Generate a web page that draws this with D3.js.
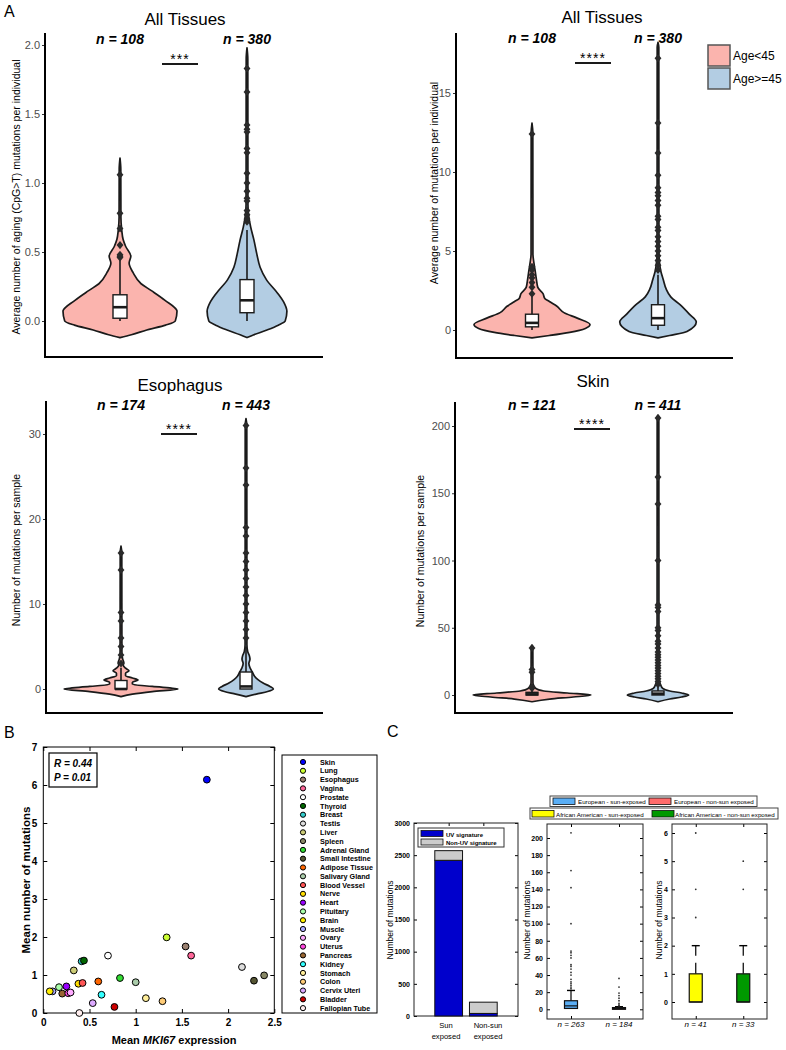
<!DOCTYPE html>
<html><head><meta charset="utf-8">
<script src="https://cdn.jsdelivr.net/npm/d3@7"></script>
<style>
body{margin:0;background:#fff}
svg{display:block}
text{font-family:"Liberation Sans",Arial,Helvetica,sans-serif}
</style>
</head><body>
<svg id="c" width="786" height="1050"></svg>
<script>
// ================= DATA =================
const ageGroups = ["Age<45", "Age>=45"];
const ageColors = ["#FBB4AE", "#B3CDE3"];

// A1 – All Tissues, aging (CpG>T) mutations ([value, relative density])
const a1Title = "All Tissues";
const a1N = ["n = 108", "n = 380"];
const a1Sig = "***";
const a1Ticks = [0, 0.5, 1, 1.5, 2];
const a1DensYoung = [[-0.12,0],[-0.1,0.2],[-0.065,0.47],[-0.03,0.8],[0,0.97],[0.07,1.0],[0.15,0.79],[0.22,0.55],[0.27,0.37],[0.35,0.23],[0.42,0.16],[0.47,0.19],[0.54,0.1],[0.59,0.055],[0.66,0.03],[0.75,0.016],[1.1,0.014],[1.18,0]];
const a1DensOld = [[-0.12,0],[-0.1,0.12],[-0.065,0.35],[-0.03,0.55],[0,0.67],[0.07,0.7],[0.14,0.64],[0.2,0.54],[0.3,0.34],[0.39,0.23],[0.49,0.17],[0.59,0.12],[0.68,0.065],[0.76,0.03],[0.85,0.016],[1.6,0.015],[1.9,0.014],[1.98,0]];
const a1BoxYoung = [0, 0.02, 0.10, 0.19, 0.45]; // low whisker, q1, median, q3, high whisker
const a1BoxOld = [0, 0.06, 0.15, 0.30, 0.66];
const a1OutYoung = [0.46, 0.47, 0.48, 0.55, 0.67, 0.78, 1.06];
const a1OutOld = [0.72, 0.74, 0.77, 0.80, 0.87, 0.89, 0.94, 1.00, 1.07, 1.22, 1.25, 1.37, 1.39, 1.42, 1.66, 1.83];

// A2 – All Tissues, all mutations
const a2Title = "All Tissues";
const a2N = ["n = 108", "n = 380"];
const a2Sig = "****";
const a2Ticks = [0, 5, 10, 15];
const a2DensYoung = [[-0.5,0],[-0.35,0.3],[-0.15,0.65],[0.1,0.92],[0.35,1.0],[0.75,0.78],[1.1,0.55],[1.5,0.43],[1.8,0.3],[2.0,0.22],[2.3,0.19],[2.7,0.1],[3.1,0.08],[3.6,0.06],[4.2,0.035],[4.8,0.016],[12.5,0.014],[13.1,0]];
const a2DensOld = [[-0.5,0],[-0.35,0.2],[-0.1,0.5],[0.5,0.66],[1.0,0.54],[1.6,0.38],[2.1,0.22],[2.6,0.14],[3.2,0.09],[3.7,0.05],[4.3,0.025],[5,0.016],[17.9,0.014],[18.2,0]];
const a2BoxYoung = [0, 0.2, 0.45, 1.0, 2.2];
const a2BoxOld = [0, 0.3, 0.75, 1.6, 3.5];
const a2OutYoung = [2.3, 2.7, 3.0, 3.3, 3.5, 3.8, 4.0, 12.4];
const a2OutOld = [3.8, 4.1, 4.4, 4.7, 5.0, 5.3, 5.6, 5.9, 6.3, 6.5, 7.0, 7.2, 7.9, 8.2, 8.5, 8.7, 9.0, 9.8, 11.2, 13.1, 17.2];

// A3 – Esophagus
const a3Title = "Esophagus";
const a3N = ["n = 174", "n = 443"];
const a3Sig = "****";
const a3Ticks = [0, 10, 20, 30];
const a3DensYoung = [[-0.9,0],[-0.6,0.2],[-0.3,0.55],[0,1.0],[0.3,0.55],[0.55,0.2],[0.8,0.2],[1.05,0.3],[1.3,0.2],[1.55,0.08],[1.85,0.08],[2.15,0.14],[2.45,0.08],[2.8,0.04],[3.1,0.05],[3.5,0.03],[4.2,0.016],[16,0.014],[16.8,0]];
const a3DensOld = [[-0.9,0],[-0.6,0.18],[-0.3,0.38],[0,0.48],[0.3,0.42],[0.7,0.3],[1.1,0.21],[1.5,0.15],[2.0,0.11],[2.5,0.07],[3.0,0.05],[3.5,0.07],[3.9,0.06],[4.4,0.03],[5.2,0.016],[31,0.014],[31.8,0]];
const a3BoxYoung = [0, 0, 0, 1, 2.5];
const a3BoxOld = [0, 0, 0.3, 2, 5];
const a3OutYoung = [3, 4, 5, 6, 8, 9, 14, 16];
const a3OutOld = [6, 7, 8, 9, 10, 11, 12, 13, 14, 15, 16, 18, 19, 24, 26, 31];

// A4 – Skin
const a4Title = "Skin";
const a4N = ["n = 121", "n = 411"];
const a4Sig = "****";
const a4Ticks = [0, 50, 100, 150, 200];
const a4DensYoung = [[-5,0],[-3,0.3],[-1.5,0.7],[0,1.0],[1.5,0.6],[3,0.2],[5,0.06],[7,0.03],[9,0.016],[36,0.014],[37,0]];
const a4DensOld = [[-5,0],[-3,0.2],[-1.5,0.4],[0,0.52],[1.5,0.4],[3,0.2],[5,0.08],[8,0.04],[11,0.02],[14,0.016],[207,0.014],[208,0]];
const a4BoxYoung = [0, 0, 0.5, 2, 5];
const a4BoxOld = [0, 0, 1, 3, 7];
const a4OutYoung = [5, 6, 17, 19, 35];
const a4OutOld = [8, 10, 12, 14, 16, 18, 20, 22, 24, 26, 28, 30, 32, 35, 38, 40, 44, 48, 50, 62, 65, 67, 100, 142, 162, 206];

// B – mean mutations vs MKI67 expression
const tissues = ["Skin","Lung","Esophagus","Vagina","Prostate","Thyroid","Breast","Testis","Liver","Spleen","Adrenal Gland","Small Intestine","Adipose Tissue","Salivary Gland","Blood Vessel","Nerve","Heart","Pituitary","Brain","Muscle","Ovary","Uterus","Pancreas","Kidney","Stomach","Colon","Cervix Uteri","Bladder","Fallopian Tube"];
const tissueColors = ["#0000ff","#ccff33","#9a8070","#ff6699","#ffffff","#006600","#33cccc","#dddddd","#cccc77","#888866","#33dd33","#555533","#ff6600","#aaccaa","#ff5555","#ffdd00","#9900ff","#aaffaa","#ffee00","#aaaaff","#ffaaff","#ff44dd","#996633","#33ffff","#ffee99","#ffcc77","#ddaaff","#cc0000","#ffeeee"];
const mki67 = [1.77,1.335,1.54,1.60,0.70,0.44,0.415,2.15,0.33,2.39,0.83,2.28,0.595,1.0,0.425,0.38,0.25,0.17,0.07,0.10,0.295,0.27,0.205,0.63,1.11,1.29,0.535,0.77,0.39];
const meanMut = [6.14,1.99,1.75,1.51,1.51,1.38,1.36,1.21,1.12,0.99,0.92,0.85,0.83,0.81,0.79,0.77,0.70,0.68,0.57,0.57,0.54,0.52,0.51,0.48,0.39,0.31,0.26,0.16,0.0];
const bTicksX = [0, 0.5, 1, 1.5, 2, 2.5];
const bTicksY = [0, 1, 2, 3, 4, 5, 6, 7];
const bStats = ["R = 0.44", "P = 0.01"];

// C – UV signature bars
const cCats = [["Sun","exposed"],["Non-sun","exposed"]];
const cUV = [2420, 40];
const cNonUV = [150, 175];
const cSeries = ["UV signature", "Non-UV signature"];
const cBarTicks = [0, 500, 1000, 1500, 2000, 2500, 3000];

// C – boxplots by ancestry
const cLegend = ["European - sun-exposed","European - non-sun exposed","African American - sun-exposed","African American - non-sun exposed"];
const cLegendColors = ["#5aaef5","#ff6b6b","#ffff00","#009900"];
const cEuroN = ["n = 263", "n = 184"];
const cEuroBox = [[0, 1, 4, 10, 22], [0, 0, 1, 2, 3]];
const cEuroOut = [[24,26,28,30,32,35,40,43,47,50,52,60,63,66,68,100,142,162,206],[4,5,7,10,13,16,19,26,36]];
const cEuroTicks = [0,20,40,60,80,100,120,140,160,180,200];
const cAfrN = ["n = 41", "n = 33"];
const cAfrBox = [[0, 0, 0, 1, 2], [0, 0, 0, 1, 2]];
const cAfrOut = [[3, 4, 6], [4, 5]];
const cAfrTicks = [0, 1, 2, 3, 4, 5, 6];

// ================= DRAW =================
const svg = d3.select("#c");

function txt(g, x, y, s, o = {}) {
  const t = g.append("text").attr("x", x).attr("y", y).text(s)
    .style("font-size", (o.size || 12) + "px")
    .attr("text-anchor", o.anchor || "start")
    .attr("fill", o.fill || "#000");
  if (o.weight) t.style("font-weight", o.weight);
  if (o.italic) t.style("font-style", "italic");
  if (o.ls) t.style("letter-spacing", o.ls + "px");
  return t;
}
function rtxt(g, x, y, s, o = {}) {
  const t = txt(g, 0, 0, s, Object.assign({anchor: "middle"}, o));
  t.attr("x", null).attr("y", null).attr("transform", `translate(${x},${y}) rotate(-90)`);
  return t;
}

function violinPanel(o) {
  const g = svg.append("g");
  const y = d3.scaleLinear().domain([o.ticks[0], o.ticks[o.ticks.length - 1]]).range(o.yRange);
  const w = d3.scaleLinear().domain([0, 1]).range([0, o.maxHalf]);
  const ax = d3.axisLeft(y).tickValues(o.ticks).tickFormat(o.fmt).tickSize(3).tickPadding(2);
  const axg = g.append("g").attr("transform", `translate(${o.axisX},0)`).call(ax);
  axg.select(".domain").remove();
  axg.selectAll(".tick line").attr("stroke", "#333");
  axg.selectAll(".tick text").attr("fill", "#4d4d4d").style("font-size", "11px")
     .style("font-family", '"Liberation Sans",Arial,sans-serif');
  g.append("path").attr("d", `M${o.axisX},${o.top}V${o.bottom}H${o.right}`)
    .attr("fill", "none").attr("stroke", "#000").attr("stroke-width", 2);
  txt(g, o.titleX, o.titleY, o.title, {size: 17, anchor: "middle"});
  rtxt(g, o.labX, o.labY, o.ylabel, {size: 10.5});
  o.groups.forEach((gr, i) => {
    const cx = o.centers[i];
    txt(g, cx, o.nY, gr.n, {size: 14, weight: "bold", italic: true, anchor: "middle"});
    const area = d3.area().curve(d3.curveMonotoneY)
      .y(d => y(d[0])).x0(d => cx - w(d[1])).x1(d => cx + w(d[1]));
    g.append("path").attr("d", area(gr.dens)).attr("fill", ageColors[i])
      .attr("stroke", "#1a1a1a").attr("stroke-width", 1.7).attr("stroke-linejoin", "round");
    const b = gr.box, bw = o.boxW;
    g.append("line").attr("x1", cx).attr("x2", cx).attr("y1", y(b[3])).attr("y2", y(b[4]))
      .attr("stroke", "#1a1a1a").attr("stroke-width", 1.6);
    g.append("line").attr("x1", cx).attr("x2", cx).attr("y1", y(b[1])).attr("y2", y(b[0]))
      .attr("stroke", "#1a1a1a").attr("stroke-width", 1.6);
    g.append("rect").attr("x", cx - bw / 2).attr("width", bw)
      .attr("y", y(b[3])).attr("height", Math.max(1, y(b[1]) - y(b[3])))
      .attr("fill", "#fff").attr("stroke", "#1a1a1a").attr("stroke-width", 1.4);
    g.append("line").attr("x1", cx - bw / 2).attr("x2", cx + bw / 2).attr("y1", y(b[2])).attr("y2", y(b[2]))
      .attr("stroke", "#1a1a1a").attr("stroke-width", 2.6);
    g.selectAll(null).data(gr.out).join("path")
      .attr("d", d3.symbol(d3.symbolDiamond, 26))
      .attr("transform", d => `translate(${cx},${y(d)}) scale(1.25,0.85)`)
      .attr("fill", "#2a2a2a");
  });
  txt(g, o.sigX, o.sigY, o.sig, {size: 14, anchor: "middle", ls: 1});
  g.append("line").attr("x1", o.sigX - 18).attr("x2", o.sigX + 18).attr("y1", o.sigLine).attr("y2", o.sigLine)
    .attr("stroke", "#1a1a1a").attr("stroke-width", 1.8);
  return g;
}

txt(svg, 4, 17, "A", {size: 16});

violinPanel({title: a1Title, titleX: 185, titleY: 25, ticks: a1Ticks, fmt: d3.format(".1f"),
  yRange: [321, 45], axisX: 45, top: 33, bottom: 357, right: 323, maxHalf: 57, boxW: 14,
  ylabel: "Average number of aging (CpG>T) mutations per individual", labX: 20, labY: 197,
  centers: [120, 247], nY: 44, sig: a1Sig, sigX: 180, sigY: 64, sigLine: 64,
  groups: [{n: a1N[0], dens: a1DensYoung, box: a1BoxYoung, out: a1OutYoung},
           {n: a1N[1], dens: a1DensOld, box: a1BoxOld, out: a1OutOld}]});

violinPanel({title: a2Title, titleX: 602, titleY: 23, ticks: a2Ticks, fmt: d3.format("d"),
  yRange: [330, 93], axisX: 456, top: 33, bottom: 358, right: 733, maxHalf: 58, boxW: 13,
  ylabel: "Average number of mutations per individual", labX: 438, labY: 183,
  centers: [532, 658], nY: 43, sig: a2Sig, sigX: 593, sigY: 63, sigLine: 63,
  groups: [{n: a2N[0], dens: a2DensYoung, box: a2BoxYoung, out: a2OutYoung},
           {n: a2N[1], dens: a2DensOld, box: a2BoxOld, out: a2OutOld}]});

violinPanel({title: a3Title, titleX: 180, titleY: 391, ticks: a3Ticks, fmt: d3.format("d"),
  yRange: [689, 434], axisX: 46, top: 401, bottom: 713, right: 323, maxHalf: 57, boxW: 12,
  ylabel: "Number of mutations per sample", labX: 20, labY: 550,
  centers: [121, 246], nY: 410, sig: a3Sig, sigX: 179, sigY: 434, sigLine: 434,
  groups: [{n: a3N[0], dens: a3DensYoung, box: a3BoxYoung, out: a3OutYoung},
           {n: a3N[1], dens: a3DensOld, box: a3BoxOld, out: a3OutOld}]});

violinPanel({title: a4Title, titleX: 593, titleY: 387, ticks: a4Ticks, fmt: d3.format("d"),
  yRange: [695, 426], axisX: 455, top: 402, bottom: 713, right: 733, maxHalf: 59, boxW: 12,
  ylabel: "Number of mutations per sample", labX: 424, labY: 551,
  centers: [532, 658], nY: 410, sig: a4Sig, sigX: 592, sigY: 429, sigLine: 429,
  groups: [{n: a4N[0], dens: a4DensYoung, box: a4BoxYoung, out: a4OutYoung},
           {n: a4N[1], dens: a4DensOld, box: a4BoxOld, out: a4OutOld}]});

// legend A
{
  const g = svg.append("g");
  ageGroups.forEach((s, i) => {
    g.append("rect").attr("x", 708).attr("y", 45 + i * 23).attr("width", 22).attr("height", 21)
      .attr("fill", ageColors[i]).attr("stroke", "#555").attr("stroke-width", 1.5);
    txt(g, 733, 60 + i * 23, s, {size: 12});
  });
}

// ============ Panel B ============
{
  const g = svg.append("g");
  txt(g, 4, 738, "B", {size: 16});
  const x = d3.scaleLinear().domain([0, 2.5]).range([43.3, 274.3]);
  const y = d3.scaleLinear().domain([0, 7]).range([1013, 747]);
  const style = sel => {
    sel.select(".domain").remove();
    sel.selectAll(".tick line").attr("stroke", "#000");
    sel.selectAll(".tick text").style("font-size", "10px").style("font-weight", "bold")
      .style("font-family", '"Liberation Sans",Arial,sans-serif').attr("fill", "#000");
  };
  g.append("g").attr("transform", "translate(0,1013)")
    .call(d3.axisBottom(x).tickValues(bTicksX).tickFormat(d => String(d)).tickSize(-4).tickPadding(6)).call(style);
  g.append("g").attr("transform", "translate(0,747)")
    .call(d3.axisTop(x).tickValues(bTicksX).tickFormat("").tickSize(-4)).call(style);
  g.append("g").attr("transform", "translate(43.3,0)")
    .call(d3.axisLeft(y).tickValues(bTicksY).tickFormat(d => String(d)).tickSize(-4).tickPadding(6)).call(style);
  g.append("g").attr("transform", "translate(274.3,0)")
    .call(d3.axisRight(y).tickValues(bTicksY).tickFormat("").tickSize(-4)).call(style);
  g.append("rect").attr("x", 43.3).attr("y", 747).attr("width", 231).attr("height", 266)
    .attr("fill", "none").attr("stroke", "#000").attr("stroke-width", 1);
  const xl = txt(g, 174, 1044, "", {size: 11, weight: "bold", anchor: "middle"});
  xl.append("tspan").text("Mean ");
  xl.append("tspan").text("MKI67").style("font-style", "italic");
  xl.append("tspan").text(" expression");
  rtxt(g, 30, 880, "Mean number of mutations", {size: 11.5, weight: "bold"});
  g.append("rect").attr("x", 49).attr("y", 753).attr("width", 48).attr("height", 34)
    .attr("fill", "#fff").attr("stroke", "#000").attr("stroke-width", 1.2);
  txt(g, 54, 767, bStats[0], {size: 10, weight: "bold", italic: true});
  txt(g, 54, 781, bStats[1], {size: 10, weight: "bold", italic: true});
  const order = d3.range(tissues.length).reverse();
  g.selectAll(null).data(order).join("circle")
    .attr("cx", i => x(mki67[i])).attr("cy", i => y(meanMut[i])).attr("r", 3.4)
    .attr("fill", i => tissueColors[i]).attr("stroke", "#000").attr("stroke-width", 1);
  // legend
  g.append("rect").attr("x", 282).attr("y", 755).attr("width", 95).attr("height", 258)
    .attr("fill", "#fff").attr("stroke", "#000").attr("stroke-width", 1);
  tissues.forEach((t, i) => {
    const yy = 762 + i * 8.79;
    g.append("circle").attr("cx", 303).attr("cy", yy).attr("r", 2.6)
      .attr("fill", tissueColors[i]).attr("stroke", "#000").attr("stroke-width", 1);
    txt(g, 320, yy + 2.6, t, {size: 7.2, weight: "bold"});
  });
}

// ============ Panel C ============
function boxAxes(g, x, y, ticks, l, r, t, b, cats) {
  const style = sel => {
    sel.select(".domain").remove();
    sel.selectAll(".tick line").attr("stroke", "#000");
    sel.selectAll(".tick text").style("font-size", "7px").style("font-weight", "bold")
      .style("font-family", '"Liberation Sans",Arial,sans-serif').attr("fill", "#000");
  };
  g.append("g").attr("transform", `translate(${l},0)`)
    .call(d3.axisLeft(y).tickValues(ticks).tickFormat(d => String(d)).tickSize(-3).tickPadding(4)).call(style);
  g.append("g").attr("transform", `translate(${r},0)`)
    .call(d3.axisRight(y).tickValues(ticks).tickFormat("").tickSize(-3)).call(style);
  g.append("g").attr("transform", `translate(0,${b})`)
    .call(d3.axisBottom(x).tickValues(cats).tickFormat("").tickSize(-3)).call(style);
  g.append("g").attr("transform", `translate(0,${t})`)
    .call(d3.axisTop(x).tickValues(cats).tickFormat("").tickSize(-3)).call(style);
  g.append("rect").attr("x", l).attr("y", t).attr("width", r - l).attr("height", b - t)
    .attr("fill", "none").attr("stroke", "#222").attr("stroke-width", 1);
}

{
  const g = svg.append("g");
  txt(g, 387, 737, "C", {size: 16});
  // bar chart
  const x = d3.scaleLinear().domain([0, 3]).range([414, 518]);
  const y = d3.scaleLinear().domain([0, 3000]).range([1016, 823]);
  boxAxes(g, x, y, cBarTicks, 414, 518, 823, 1016, [1, 2]);
  const bw = (x(0.8) - x(0));
  cUV.forEach((v, i) => {
    const cx = x(i + 1);
    g.append("rect").attr("x", cx - bw / 2).attr("width", bw).attr("y", y(v)).attr("height", y(0) - y(v))
      .attr("fill", "#0000cc").attr("stroke", "#111").attr("stroke-width", 1);
    g.append("rect").attr("x", cx - bw / 2).attr("width", bw).attr("y", y(v + cNonUV[i]))
      .attr("height", y(v) - y(v + cNonUV[i]))
      .attr("fill", "#cccccc").attr("stroke", "#111").attr("stroke-width", 1);
  });
  const labX = [446, 488];
  cCats.forEach((c, i) => {
    txt(g, labX[i], 1028, c[0], {size: 7.6, anchor: "middle"});
    txt(g, labX[i], 1039, c[1], {size: 7.6, anchor: "middle"});
  });
  rtxt(g, 393, 920, "Number of mutations", {size: 8.5});
  g.append("rect").attr("x", 418).attr("y", 828).attr("width", 86).attr("height", 19)
    .attr("fill", "#fff").attr("stroke", "#333").attr("stroke-width", 1);
  [["#0000cc", cSeries[0]], ["#cccccc", cSeries[1]]].forEach((d, i) => {
    g.append("rect").attr("x", 421).attr("y", 830.5 + i * 8.5).attr("width", 22).attr("height", 6)
      .attr("fill", d[0]).attr("stroke", "#111").attr("stroke-width", 0.8);
    txt(g, 446, 836.5 + i * 8.5, d[1], {size: 6, weight: "bold"});
  });

  // legends
  g.append("rect").attr("x", 550).attr("y", 796).attr("width", 207).attr("height", 10.5)
    .attr("fill", "#fff").attr("stroke", "#444").attr("stroke-width", 1);
  g.append("rect").attr("x", 530).attr("y", 808).attr("width", 248).attr("height", 11)
    .attr("fill", "#fff").attr("stroke", "#444").attr("stroke-width", 1);
  const legPos = [[553, 798, 578], [649, 798, 674], [532, 810.5, 556], [652, 810.5, 675]];
  cLegend.forEach((s, i) => {
    const p = legPos[i];
    g.append("rect").attr("x", p[0]).attr("y", p[1]).attr("width", 22).attr("height", 6.5)
      .attr("fill", cLegendColors[i]).attr("stroke", "#111").attr("stroke-width", 0.8);
    txt(g, p[2], p[1] + 6, s, {size: 6.2});
  });

  function boxPlot(l, r, t, b, yDom, yRange, ticks, boxes, outs, cols, ns, labX) {
    const xx = d3.scaleLinear().domain([0.5, 2.5]).range([l, r]);
    const yy = d3.scaleLinear().domain(yDom).range(yRange);
    boxAxes(g, xx, yy, ticks, l, r, t, b, [1, 2]);
    boxes.forEach((bx, i) => {
      const cx = xx(i + 1), hw = 6.5;
      g.append("line").attr("x1", cx).attr("x2", cx).attr("y1", yy(bx[3])).attr("y2", yy(bx[4]))
        .attr("stroke", "#000").attr("stroke-width", 1.2).attr("stroke-dasharray", "11,7");
      g.append("line").attr("x1", cx - 4).attr("x2", cx + 4).attr("y1", yy(bx[4])).attr("y2", yy(bx[4]))
        .attr("stroke", "#000").attr("stroke-width", 1.4);
      g.append("rect").attr("x", cx - hw).attr("width", 2 * hw).attr("y", yy(bx[3]))
        .attr("height", Math.max(1.5, yy(bx[1]) - yy(bx[3])))
        .attr("fill", cols[i]).attr("stroke", "#111").attr("stroke-width", 1.2);
      g.append("line").attr("x1", cx - hw).attr("x2", cx + hw).attr("y1", yy(bx[2])).attr("y2", yy(bx[2]))
        .attr("stroke", "#111").attr("stroke-width", 1.2);
      g.selectAll(null).data(outs[i]).join("circle")
        .attr("cx", cx).attr("cy", d => yy(d)).attr("r", 0.9).attr("fill", "#333");
      txt(g, cx, 1027, ns[i], {size: 8, italic: true, anchor: "middle"});
    });
    rtxt(g, labX, 920, "Number of mutations", {size: 8.5});
  }
  boxPlot(547, 643, 824, 1019, [0, 200], [1009.3, 838], cEuroTicks, cEuroBox, cEuroOut,
    [cLegendColors[0], cLegendColors[1]], cEuroN, 530);
  boxPlot(672, 767, 824, 1019, [0, 6], [1002, 833], cAfrTicks, cAfrBox, cAfrOut,
    [cLegendColors[2], cLegendColors[3]], cAfrN, 662);
}
</script>
</body></html>
